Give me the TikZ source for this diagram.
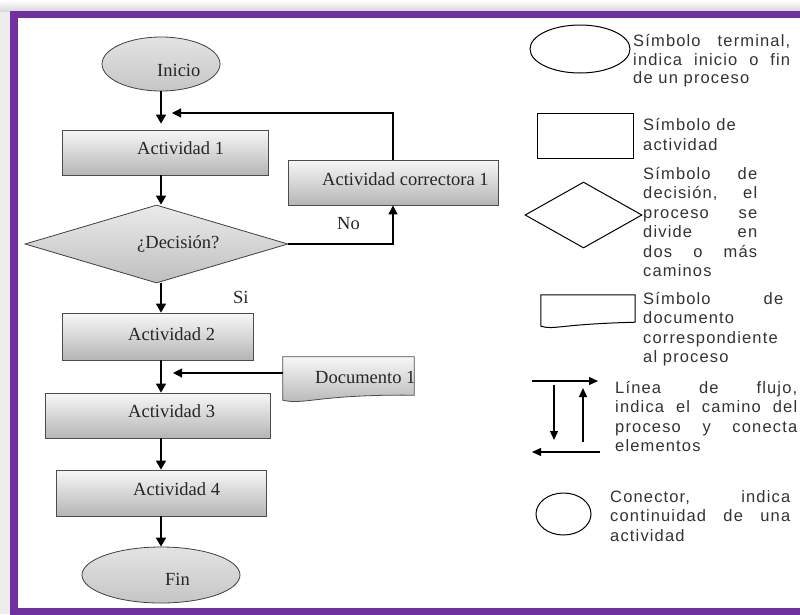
\documentclass[tikz,border=0pt]{standalone}
\usepackage{fontspec}
\setmainfont{Liberation Serif}
\newfontfamily\legendfont[LetterSpace=7.0]{Liberation Sans}
\usetikzlibrary{shapes.geometric,arrows.meta}
\definecolor{framepurple}{RGB}{112,48,160}

\tikzset{
  flowarrow/.style={line width=1.6pt, -{Triangle[width=10pt,length=9pt]}},
  thinarrow/.style={line width=1.1pt, -{Triangle[width=9pt,length=9pt]}},
  legarrow/.style={line width=1.2pt, -{Triangle[width=8pt,length=9pt]}},
  stepbox/.style={rectangle, draw=gray!60!black, line width=0.8pt,
    top color=gray!6, bottom color=gray!58, inner sep=0pt},
  terminal/.style={ellipse, draw=gray!50!black, line width=0.8pt,
    top color=gray!22, bottom color=gray!45, inner sep=0pt},
  decision/.style={diamond, draw=gray!50!black, line width=0.8pt,
    top color=gray!16, bottom color=gray!50, inner sep=0pt},
  docshade/.style={top color=gray!6, bottom color=gray!58,
    draw=gray!60!black, line width=0.8pt},
  boxtext/.style={anchor=base west, inner sep=0pt,
    font=\fontsize{18.5}{22}\selectfont, text=black!85},
  legshape/.style={draw=black, line width=1pt, fill=white, inner sep=0pt},
  % multi-line legend text: the base anchor sits on the last line
  legtext/.style={anchor=base west, inner sep=0pt, align=left,
    font=\legendfont\fontsize{16.5}{19.5}\selectfont, text=black!80},
}

\begin{document}
\begin{tikzpicture}[x=1pt,y=-1pt]
\useasboundingbox (0,0) rectangle (800,614);

% backdrop and purple frame
\fill[gray!14] (0,0) rectangle (800,614);
\shade[top color=white, bottom color=gray!30] (0,0) rectangle (800,11);
\fill[white] (18,18) rectangle (800,608);
\draw[framepurple, line width=7.5pt] (14,14.5) rectangle (812,611.5);

% ---------- flowchart ----------
\node[terminal, minimum width=118pt, minimum height=54pt] (inicio) at (161,64) {};
\node[stepbox, minimum width=206pt, minimum height=45pt] (act1) at (165,152.5) {};
\node[stepbox, minimum width=210pt, minimum height=45pt] (corr) at (393,182.5) {};
\node[decision, minimum width=263pt, minimum height=78pt] (dec) at (156.5,244) {};
\node[stepbox, minimum width=191pt, minimum height=47pt] (act2) at (157.5,336.5) {};
\node[stepbox, minimum width=225pt, minimum height=45pt] (act3) at (157.5,415.5) {};
\node[stepbox, minimum width=210pt, minimum height=46pt] (act4) at (161,493) {};
\node[terminal, minimum width=158pt, minimum height=56pt] (fin) at (161,575) {};

% document symbol with wavy lower edge
\node[minimum width=131pt, minimum height=45pt, inner sep=0pt] (doc) at (348.5,379.5) {};
\shadedraw[docshade] (doc.north west) -- (doc.north east) -- ([yshift=7pt]doc.south east)
  .. controls ([xshift=-30pt,yshift=8pt]doc.south) and ([xshift=22pt,yshift=-3pt]doc.south west)
  .. ([yshift=2pt]doc.south west) -- cycle;

% labels
\node[boxtext] (inicio-t) at (157,76) {Inicio};
\node[boxtext] (act1-t) at (137,154) {Actividad 1};
\node[boxtext] (corr-t) at (322,185) {Actividad correctora 1};
\node[boxtext] (dec-t) at (137,248) {¿Decisión?};
\node[boxtext] (act2-t) at (128,340) {Actividad 2};
\node[boxtext] (doc-t) at (315,383) {Documento 1};
\node[boxtext] (act3-t) at (128,417) {Actividad 3};
\node[boxtext] (act4-t) at (133,495) {Actividad 4};
\node[boxtext] (fin-t) at (165,585) {Fin};
\node[boxtext] (no-t) at (337,229) {No};
\node[boxtext] (si-t) at (233,303) {Si};

% connectors
\coordinate (spine) at (161,0);
\coordinate (loopin) at (172,113);
\coordinate (docin) at (173,373);
\draw[flowarrow, shorten >=6pt] (inicio.south -| spine) -- (act1.north -| spine);
\draw[flowarrow] (act1.south -| spine) -- (dec.north -| spine);
\draw[flowarrow] (dec.south -| spine) -- (act2.north -| spine);
\draw[flowarrow] (act2.south -| spine) -- (act3.north -| spine);
\draw[flowarrow] (act3.south -| spine) -- (act4.north -| spine);
\draw[flowarrow] (act4.south -| spine) -- (fin.north -| spine);
\draw[thinarrow] (corr.north) |- (loopin);
\draw[thinarrow] (dec.east) -| (corr.south);
\draw[thinarrow] (docin -| doc.west) -- (docin);

% ---------- legend ----------
\node[legshape, ellipse, minimum width=100pt, minimum height=48pt] (lterm) at (580,49) {};
\node[legshape, rectangle, minimum width=96pt, minimum height=45pt] (lact) at (585,135.5) {};
\node[legshape, diamond, minimum width=117pt, minimum height=66pt] (ldec) at (583.5,215) {};
\node[minimum width=94pt, minimum height=34pt, inner sep=0pt] (ldoc) at (588,312) {};
\draw[black, line width=1pt, fill=white] (ldoc.north west) -- (ldoc.north east)
  -- ([yshift=7pt]ldoc.south east)
  .. controls ([xshift=-30pt,yshift=5pt]ldoc.south) and ([xshift=14pt,yshift=-1pt]ldoc.south west)
  .. ([yshift=3pt]ldoc.south west) -- cycle;

\coordinate (fa1) at (532,381); \coordinate (fa2) at (598,381);
\coordinate (fb1) at (554,385); \coordinate (fb2) at (554,440);
\coordinate (fc1) at (583,442); \coordinate (fc2) at (583,388);
\coordinate (fd1) at (600,452); \coordinate (fd2) at (532,452);
\draw[legarrow] (fa1) -- (fa2);
\draw[legarrow] (fb1) -- (fb2);
\draw[legarrow] (fc1) -- (fc2);
\draw[legarrow] (fd1) -- (fd2);

\node[legshape, ellipse, minimum width=55pt, minimum height=42pt] (lcon) at (563.5,514) {};

\node[legtext] (lterm-t) at (633,83.5) {\makebox[157pt][s]{Símbolo terminal,}\\[-1pt]
  \makebox[157pt][s]{indica inicio o fin}\\[-1pt] de un proceso};
\node[legtext] (lact-t) at (643,150) {Símbolo de\\ actividad};
\node[legtext] (ldec-t) at (643,276.5) {\makebox[114pt][s]{Símbolo de}\\
  \makebox[114pt][s]{decisión, el}\\ \makebox[114pt][s]{proceso se}\\
  \makebox[114pt][s]{divide en}\\ \makebox[114pt][s]{dos o más}\\ caminos};
\node[legtext] (ldoc-t) at (643,362.5) {\makebox[140pt][s]{Símbolo de}\\ documento\\
  correspondiente\\ al proceso};
\node[legtext] (lflow-t) at (615,451.5) {\makebox[182pt][s]{Línea de flujo,}\\
  \makebox[182pt][s]{indica el camino del}\\ \makebox[182pt][s]{proceso y conecta}\\ elementos};
\node[legtext] (lcon-t) at (610,541) {\makebox[180pt][s]{Conector, indica}\\
  \makebox[180pt][s]{continuidad de una}\\ actividad};
\end{tikzpicture}
\end{document}
